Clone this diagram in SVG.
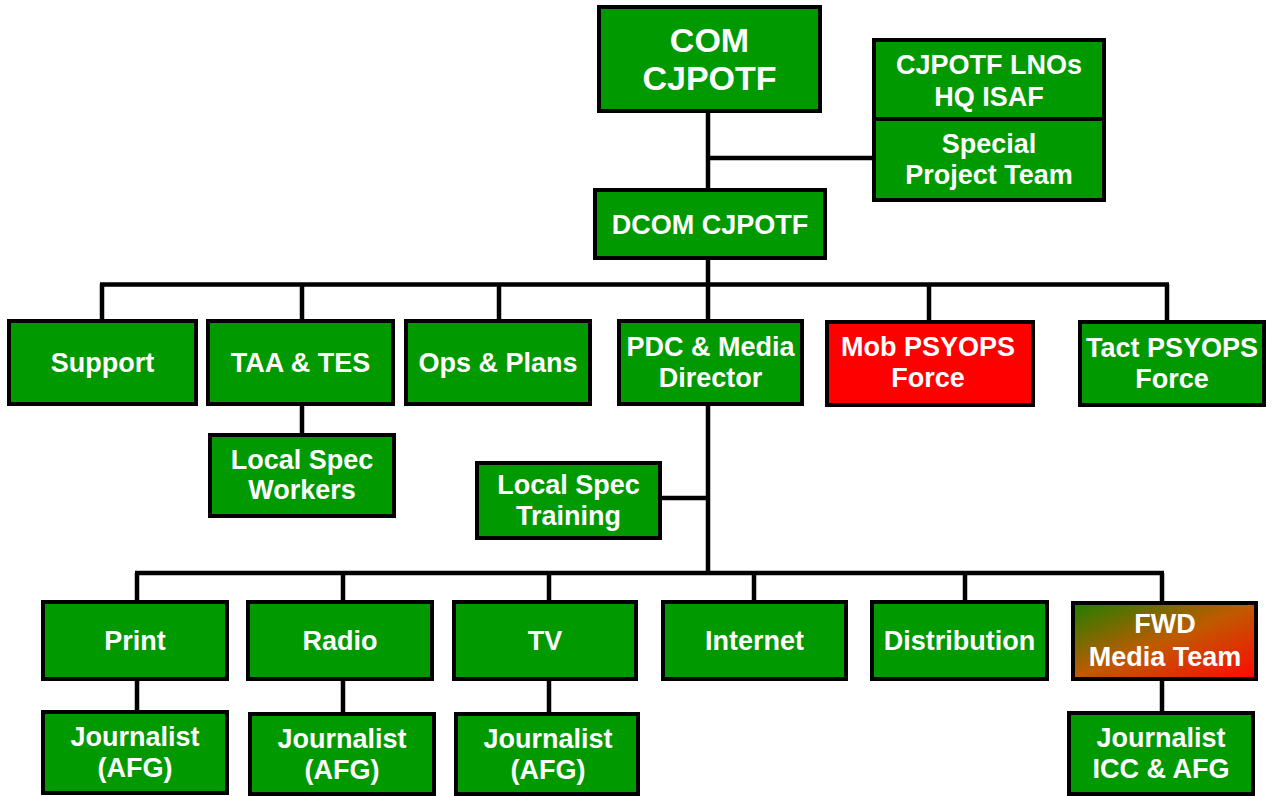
<svg xmlns="http://www.w3.org/2000/svg" width="1276" height="796" viewBox="0 0 1276 796">
<defs>
<linearGradient id="fwd" x1="0" y1="0" x2="1" y2="1">
<stop offset="0" stop-color="#1f7f00"/>
<stop offset="0.5" stop-color="#c05a00"/>
<stop offset="1" stop-color="#ff0800"/>
</linearGradient>
<style>
.box{fill:#009900;stroke:#000;stroke-width:4}
.red{fill:#ff0000;stroke:#000;stroke-width:4}
.grad{fill:url(#fwd);stroke:#000;stroke-width:4}
.t{font-family:"Liberation Sans",Arial,sans-serif;font-weight:bold;font-size:27px;fill:#fff;text-anchor:middle}
.big{font-size:34px}
.c{fill:none;stroke:#000;stroke-width:4.5}
</style>
</defs>
<rect width="1276" height="796" fill="#fff"/>
<g id="connectors">
<path class="c" d="M708 113V188M708 158H874M708 260V285"/>
<path class="c" d="M100 284.5H1169M102 284V321M302 284V321M499 284V321M708 284V321M929 284V321M1167 284V321"/>
<path class="c" d="M302 406V435M708 406V573M662 498H708"/>
<path class="c" d="M135 573H1164M137 573V602M343 573V602M549 573V602M754 573V602M965 573V602M1162 573V602"/>
<path class="c" d="M137 680V712M343 680V714M549 680V714M1162 680V712"/>
</g>
<g id="com"><rect class="box" x="599" y="7" width="221" height="104"/><text class="t big" x="709.5" y="52">COM</text><text class="t big" x="709.5" y="90">CJPOTF</text></g>
<g id="lno"><rect class="box" x="874" y="40" width="230" height="160"/><line x1="874" y1="119" x2="1104" y2="119" stroke="#000" stroke-width="4"/><text class="t" x="989" y="74">CJPOTF LNOs</text><text class="t" x="989" y="106">HQ ISAF</text><text class="t" x="989" y="153">Special</text><text class="t" x="989" y="184">Project Team</text></g>
<g id="dcom"><rect class="box" x="595" y="190" width="230" height="68"/><text class="t" x="710" y="234">DCOM CJPOTF</text></g>
<g id="support"><rect class="box" x="9" y="321" width="187" height="83"/><text class="t" x="102.5" y="372">Support</text></g>
<g id="taa"><rect class="box" x="208" y="321" width="185" height="83"/><text class="t" x="300.5" y="372">TAA &amp; TES</text></g>
<g id="ops"><rect class="box" x="406" y="321" width="184" height="83"/><text class="t" x="498" y="372">Ops &amp; Plans</text></g>
<g id="pdc"><rect class="box" x="619" y="321" width="183" height="83"/><text class="t" x="710.5" y="356">PDC &amp; Media</text><text class="t" x="710.5" y="387">Director</text></g>
<g id="mob"><rect class="red" x="827" y="322" width="206" height="83"/><text class="t" x="928" y="356">Mob PSYOPS</text><text class="t" x="928" y="387">Force</text></g>
<g id="tact"><rect class="box" x="1080" y="322" width="184" height="83"/><text class="t" x="1172" y="357">Tact PSYOPS</text><text class="t" x="1172" y="388">Force</text></g>
<g id="workers"><rect class="box" x="210" y="435" width="184" height="81"/><text class="t" x="302" y="469">Local Spec</text><text class="t" x="302" y="499">Workers</text></g>
<g id="training"><rect class="box" x="477" y="463" width="183" height="75"/><text class="t" x="568.5" y="494">Local Spec</text><text class="t" x="568.5" y="525">Training</text></g>
<g id="print"><rect class="box" x="43" y="602" width="184" height="77"/><text class="t" x="135" y="650">Print</text></g>
<g id="radio"><rect class="box" x="248" y="602" width="184" height="77"/><text class="t" x="340" y="650">Radio</text></g>
<g id="tv"><rect class="box" x="454" y="602" width="182" height="77"/><text class="t" x="545" y="650">TV</text></g>
<g id="internet"><rect class="box" x="663" y="602" width="183" height="77"/><text class="t" x="754.5" y="650">Internet</text></g>
<g id="distribution"><rect class="box" x="872" y="602" width="175" height="77"/><text class="t" x="959.5" y="650">Distribution</text></g>
<g id="fwd"><rect class="grad" x="1073" y="603" width="183" height="76"/><text class="t" x="1165" y="633">FWD</text><text class="t" x="1165" y="666">Media Team</text></g>
<g id="j-print"><rect class="box" x="43" y="712" width="184" height="81"/><text class="t" x="135" y="746">Journalist</text><text class="t" x="135" y="777">(AFG)</text></g>
<g id="j-radio"><rect class="box" x="250" y="714" width="184" height="80"/><text class="t" x="342" y="748">Journalist</text><text class="t" x="342" y="779">(AFG)</text></g>
<g id="j-tv"><rect class="box" x="456" y="714" width="182" height="80"/><text class="t" x="548" y="748">Journalist</text><text class="t" x="548" y="779">(AFG)</text></g>
<g id="j-fwd"><rect class="box" x="1069" y="713" width="184" height="81"/><text class="t" x="1161" y="747">Journalist</text><text class="t" x="1161" y="778">ICC &amp; AFG</text></g>
</svg>
